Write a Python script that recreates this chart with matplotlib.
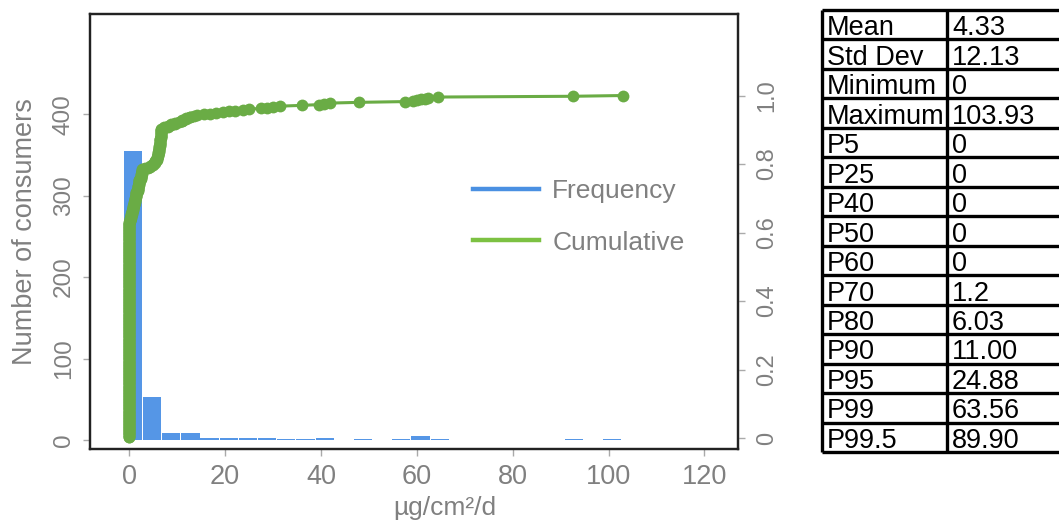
import numpy as np
import matplotlib
matplotlib.use("Agg")
import matplotlib.pyplot as plt
from matplotlib.lines import Line2D

plt.rcParams['font.family'] = ['Liberation Sans', 'DejaVu Sans']

# ---------------- data ----------------
# histogram (bins of width 4 starting at -1.25)
freq_counts = [355, 53, 9, 9, 3, 3, 2, 3, 1, 1, 3, 0, 1, 0, 1, 5, 1,
               0, 0, 0, 0, 0, 0, 1, 0, 1]
bin_start = -1.25
bin_width = 4.0

# individual exposure values (distinct value, number of consumers)
exposure_values = [0, 0.2, 0.4, 0.6, 0.8, 1.0, 1.2, 1.5, 1.8, 2.1, 2.4, 2.7,
                   3.2, 3.8, 4.4, 5.0, 5.4, 5.8, 6.03, 6.3, 6.5, 6.7,
                   7.2, 8.0, 8.8, 9.6, 10.4, 11.0, 11.8, 12.6, 13.4, 14.2,
                   15.5, 16.8, 18.0, 19.6, 20.8, 22.0, 23.8, 24.88,
                   27.5, 28.8, 30.0, 31.5, 36.0, 39.5, 40.6, 41.8, 48.0,
                   57.6, 59.2, 60.0, 60.8, 61.6, 62.4, 64.5, 92.5, 103.0]
exposure_counts = [285, 5, 5, 5, 6, 5, 6, 8, 8, 8, 7, 7,
                   1, 1, 2, 3, 4, 5, 6, 8, 10, 13,
                   2, 2, 2, 2, 1, 3, 2, 2, 1, 1,
                   1, 1, 1, 1, 1, 1, 1, 1,
                   1, 1, 1, 1, 1, 1, 1, 1, 1,
                   1, 1, 1, 1, 1, 1, 1, 1, 1]

x_ticks = [0, 20, 40, 60, 80, 100, 120]
y_ticks = [0, 100, 200, 300, 400]
cum_ticks = [0, 0.2, 0.4, 0.6, 0.8, 1.0]
cum_tick_labels = ["0", "0.2", "0.4", "0.6", "0.8", "1.0"]

stat_names = ["Mean", "Std Dev", "Minimum", "Maximum", "P5", "P25", "P40",
              "P50", "P60", "P70", "P80", "P90", "P95", "P99", "P99.5"]
stat_values = ["4.33", "12.13", "0", "103.93", "0", "0", "0", "0", "0",
               "1.2", "6.03", "11.00", "24.88", "63.56", "89.90"]

# ---------------- styling ----------------
BAR_C = "#5596e6"
CUM_C = "#6aac45"
LEG_BLUE = "#4a90e2"
LEG_GREEN = "#7cc142"
TXT = "#808080"

W, H = 1059, 524
fig = plt.figure(figsize=(W / 100, H / 100), dpi=100)

L, R, T, B = 90, 738, 14, 449
ax = fig.add_axes([L / W, (H - B) / H, (R - L) / W, (B - T) / H])

counts = np.array(freq_counts, dtype=float)
lefts = bin_start + bin_width * np.arange(len(counts))
mask = counts > 0
ax.bar(lefts[mask] + 0.1, counts[mask], width=bin_width - 0.2, align='edge',
       color=BAR_C, edgecolor='none', zorder=2)

ax.set_xlim(-8.2, 127)
ax.set_ylim(-11, 523)
ax.set_xticks(x_ticks)
ax.set_xticklabels([str(v) for v in x_ticks])
ax.set_yticks(y_ticks)
ax.set_yticklabels([str(v) for v in y_ticks])

for s in ax.spines.values():
    s.set_color("#222222")
    s.set_linewidth(1.6)

ax.tick_params(axis='x', colors="#aaaaaa", labelcolor=TXT, labelsize=19.5,
               length=5, width=1, pad=6)
ax.tick_params(axis='y', colors="#aaaaaa", labelcolor=TXT, labelsize=17.5,
               length=5, width=1, pad=6, labelrotation=90)
for lab in ax.get_yticklabels():
    lab.set_va('center')

ax.set_ylabel("Number of consumers", fontsize=19.5, color=TXT)
ax.yaxis.set_label_coords((25 - L) / (R - L), 0.5)
ax.yaxis.label.set_va('center')
ax.set_xlabel("µg/cm²/d", fontsize=19, color=TXT)
ax.xaxis.set_label_coords((445 - L) / (R - L), (H - 508 - (H - B)) / (B - T))
ax.xaxis.label.set_va('center')

# cumulative axis
ax2 = ax.twinx()
vals = np.repeat(np.array(exposure_values, dtype=float), exposure_counts)
n = len(vals)
cum = np.arange(1, n + 1) / n
ax2.plot(vals, cum, color=CUM_C, lw=2.2, marker='o', markersize=8.5,
         markeredgewidth=0, zorder=3)
ax2.set_ylim(-0.032, 1.238)
ax2.set_yticks(cum_ticks)
ax2.set_yticklabels(cum_tick_labels)
ax2.tick_params(axis='y', colors="#aaaaaa", labelcolor=TXT, labelsize=17,
                length=5, width=1, pad=8, labelrotation=90)
for lab in ax2.get_yticklabels():
    lab.set_va('center')
for s in ax2.spines.values():
    s.set_color("#222222")
    s.set_linewidth(1.6)

handles = [Line2D([], [], color=LEG_BLUE, lw=3.2),
           Line2D([], [], color=LEG_GREEN, lw=3.2)]
leg = ax2.legend(handles, ["Frequency", "Cumulative"], frameon=False,
                 loc='upper left', bbox_to_anchor=(0.575, 0.645),
                 fontsize=19, handlelength=2.5, handletextpad=0.5,
                 labelspacing=1.05, borderaxespad=0)
for t in leg.get_texts():
    t.set_color(TXT)

# ---------------- statistics table ----------------
TL, TR, TT, TB = 822, 1075, 10, 452
tax = fig.add_axes([TL / W, (H - TB) / H, (TR - TL) / W, (TB - TT) / H])
tax.set_xlim(0, TR - TL)
tax.set_ylim(len(stat_names), 0)
tax.axis('off')
col_div = 947 - TL
nrows = len(stat_names)
tax.hlines(np.arange(nrows + 1), 0, TR - TL, color='black', lw=2.4,
           clip_on=False)
tax.vlines([0, col_div], 0, nrows, color='black', lw=2.4, clip_on=False)
for i, (nm, v) in enumerate(zip(stat_names, stat_values)):
    tax.text(5, i + 0.86, nm, fontsize=19.5, color='black', va='baseline',
             ha='left')
    tax.text(col_div + 5, i + 0.86, v, fontsize=19.5, color='black',
             va='baseline', ha='left')

fig.savefig("out.png", dpi=100)
